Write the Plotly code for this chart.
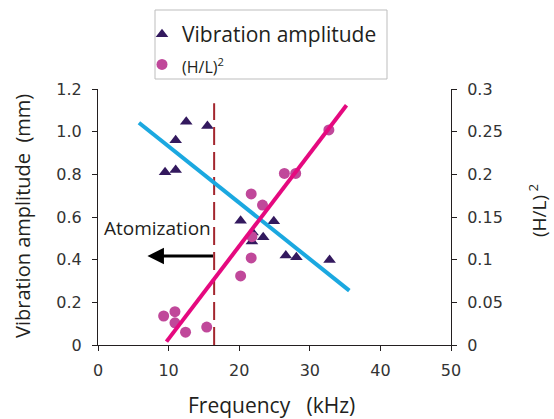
import plotly.graph_objects as go

# ---- data ----
amp_freq = [9.5, 11.0, 11.0, 12.5, 15.5, 20.2, 21.9, 21.8, 23.4, 24.9, 26.6, 28.1, 32.8]
amp_vals = [0.81, 0.82, 0.96, 1.047, 1.027, 0.583, 0.527, 0.485, 0.505, 0.58, 0.419, 0.411, 0.398]

hl_freq = [9.3, 10.9, 10.9, 12.4, 15.4, 20.2, 21.7, 21.8, 21.7, 23.3, 26.4, 28.0, 32.7]
hl_vals = [0.034, 0.039, 0.026, 0.015, 0.021, 0.081, 0.102, 0.127, 0.177, 0.164, 0.201, 0.201, 0.252]

amp_fit_x = [5.8, 35.6]
amp_fit_y = [1.042, 0.255]
hl_fit_x = [9.7, 35.2]
hl_fit_y = [0.004, 0.281]

atom_x = [16.45, 16.45]
atom_y = [0.0, 1.133]
arrow_tip = (7.0, 0.417)
arrow_tail = (16.5, 0.417)
label_pos = (8.4, 0.548)

x_ticks = [0, 10, 20, 30, 40, 50]
y1_ticks = [0, 0.2, 0.4, 0.6, 0.8, 1.0, 1.2]
y1_text = ["0", "0.2", "0.4", "0.6", "0.8", "1.0", "1.2"]
y2_ticks = [0, 0.05, 0.1, 0.15, 0.2, 0.25, 0.3]
y2_text = ["0", "0.05", "0.1", "0.15", "0.2", "0.25", "0.3"]

TICK_FONT = dict(family="DejaVu Sans", size=16, color="#333333")
TXT_FONT = "Open Sans"
DARK = "#231F20"

# plot area in screen pixels (body margin removed below)
L, R, T, B = 98, 451, 89, 345
PW, PH = R - L, B - T
W, H = 554, 419


def px_x(p):
    return (p - L) / PW


def px_y(p):
    return (B - p) / PH


fig = go.Figure()

fig.add_trace(go.Scatter(
    x=amp_freq, y=amp_vals, mode="markers", name="Vibration amplitude",
    marker=dict(symbol="triangle-up", size=11, color="#33195E"),
    yaxis="y"))
fig.add_trace(go.Scatter(
    x=hl_freq, y=hl_vals, mode="markers",
    name="<span style='font-size:16px'>(H/L)<sup>2</sup></span>",
    marker=dict(symbol="circle", size=11, color="#C0489A"),
    yaxis="y2"))
fig.add_trace(go.Scatter(
    x=atom_x, y=atom_y, mode="lines", showlegend=False, hoverinfo="skip",
    line=dict(color="#A3262E", width=2, dash="18px,7px"), yaxis="y"))
fig.add_trace(go.Scatter(
    x=amp_fit_x, y=amp_fit_y, mode="lines", showlegend=False,
    line=dict(color="#1BA8E0", width=4), yaxis="y"))
fig.add_trace(go.Scatter(
    x=hl_fit_x, y=hl_fit_y, mode="lines", showlegend=False,
    line=dict(color="#E5097F", width=4), yaxis="y2"))

fig.add_annotation(
    x=arrow_tip[0], y=arrow_tip[1], ax=arrow_tail[0], ay=arrow_tail[1],
    xref="x", yref="y", axref="x", ayref="y",
    showarrow=True, arrowhead=2, arrowsize=1.1, arrowwidth=3,
    arrowcolor="black", text="")
fig.add_annotation(
    x=label_pos[0], y=label_pos[1], xref="x", yref="y", text="Atomization",
    xanchor="center", yanchor="middle",
    showarrow=False, font=dict(family=TXT_FONT, size=19, color=DARK))

# axis titles
fig.add_annotation(
    x=px_x(271), y=px_y(405), xref="paper", yref="paper",
    xanchor="center", yanchor="middle",
    text="Frequency&nbsp;&nbsp;&nbsp;(kHz)", showarrow=False,
    font=dict(family=TXT_FONT, size=21, color=DARK))
fig.add_annotation(
    x=px_x(22), y=px_y(216), xref="paper", yref="paper", textangle=-90,
    xanchor="center", yanchor="middle",
    text="Vibration amplitude&nbsp;&nbsp;(mm)", showarrow=False,
    font=dict(family=TXT_FONT, size=20, color=DARK))
fig.add_annotation(
    x=px_x(538), y=px_y(211), xref="paper", yref="paper", textangle=-90,
    xanchor="center", yanchor="middle",
    text="(H/L)<sup> 2</sup>", showarrow=False,
    font=dict(family=TXT_FONT, size=19, color=DARK))

# legend frame
fig.add_shape(type="rect", xref="paper", yref="paper",
              x0=px_x(155), x1=px_x(387), y0=px_y(79), y1=px_y(10),
              line=dict(color="#BDBDBD", width=1), fillcolor="white", layer="below")

fig.update_layout(
    width=W, height=H,
    margin=dict(l=L, r=W - R, t=T, b=H - B, autoexpand=False),
    paper_bgcolor="white", plot_bgcolor="white",
    showlegend=True,
    legend=dict(
        x=px_x(142), y=px_y(14), xanchor="left", yanchor="top",
        bgcolor="rgba(0,0,0,0)", borderwidth=0,
        font=dict(family=TXT_FONT, size=21, color=DARK),
        itemwidth=30, tracegroupgap=0),
    xaxis=dict(
        range=[0, 50], tickvals=x_ticks, ticktext=[str(v) for v in x_ticks],
        showline=True, linecolor=DARK, linewidth=1,
        ticks="outside", ticklen=5, tickcolor=DARK,
        showgrid=False, zeroline=False, tickfont=TICK_FONT,
        ticklabelstandoff=6, automargin=False),
    yaxis=dict(
        range=[0, 1.2], tickvals=y1_ticks, ticktext=y1_text,
        showline=True, linecolor=DARK, linewidth=1,
        ticks="outside", ticklen=5, tickcolor=DARK,
        showgrid=False, zeroline=False, tickfont=TICK_FONT,
        ticklabelstandoff=7, automargin=False),
    yaxis2=dict(
        range=[0, 0.3], tickvals=y2_ticks, ticktext=y2_text,
        overlaying="y", side="right",
        showline=True, linecolor=DARK, linewidth=1,
        ticks="outside", ticklen=5, tickcolor=DARK,
        showgrid=False, zeroline=False, tickfont=TICK_FONT,
        ticklabelstandoff=7, automargin=False),
)

fig.write_html(
    "out.html",
    config={"displayModeBar": False},
    post_script="document.body.style.margin='0';document.body.style.overflow='hidden';")
